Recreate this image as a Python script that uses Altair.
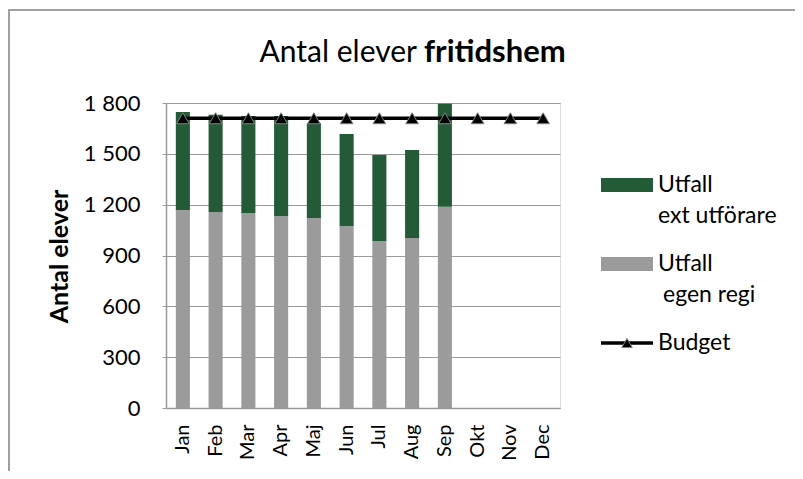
import altair as alt
import pandas as pd

months = ["Jan", "Feb", "Mar", "Apr", "Maj", "Jun", "Jul", "Aug", "Sep", "Okt", "Nov", "Dec"]
egen_regi = [1169, 1157, 1151, 1133, 1122, 1074, 986, 1004, 1187]
ext_utforare = [578, 573, 573, 591, 560, 543, 507, 519, 608]
budget = [1710, 1710, 1710, 1710, 1710, 1710, 1710, 1710, 1710, 1710, 1710, 1710]

S_EXT = "Utfall ext utförare"
S_EGEN = "Utfall egen regi"

rows = []
for i, v in enumerate(egen_regi):
    rows.append({"month": months[i], "series": S_EGEN, "value": v, "order": 1})
for i, v in enumerate(ext_utforare):
    rows.append({"month": months[i], "series": S_EXT, "value": v, "order": 2})
bars_df = pd.DataFrame(rows)
budget_df = pd.DataFrame({"month": months, "value": budget, "series": ["Budget"] * 12})

FONT = "Lato"
GREEN = "#235B37"
GRAY = "#9B9B9B"
GRID = "#9A9A9A"

xscale = alt.Scale(domain=months, paddingInner=0.57, paddingOuter=0.3)
yscale = alt.Scale(domain=[0, 1800], nice=False)

x_enc = alt.X("month:N", scale=xscale, sort=months,
              axis=alt.Axis(title=None, labelAngle=-90, labelAlign="right", labelBaseline="middle",
                            labelFontSize=20, labelFont=FONT, labelColor="#000", labelPadding=16,
                            ticks=False, domainColor=GRID, domainWidth=1.5))

bars = alt.Chart(bars_df).mark_bar().encode(
    x=x_enc,
    y=alt.Y("value:Q", stack="zero", scale=yscale,
            axis=alt.Axis(title="Antal elever", values=[0, 300, 600, 900, 1200, 1500, 1800],
                          labelExpr="replace(format(datum.value, ','), ',', ' ')",
                          labelFontSize=22, labelFont=FONT, labelColor="#000", labelPadding=22,
                          tickSize=4, tickColor=GRID, domainColor=GRID, domainWidth=1.5,
                          gridColor=GRID, gridWidth=1.2,
                          titleFont=FONT, titleFontSize=25, titleFontWeight="bold", titleColor="#000",
                          titleAngle=-90, titleX=-99, titleY=153, titleAlign="center",
                          titleBaseline="alphabetic")),
    color=alt.Color("series:N", scale=alt.Scale(domain=[S_EXT, S_EGEN], range=[GREEN, GRAY]),
                    legend=None),
    order=alt.Order("order:Q"),
)

line = alt.Chart(budget_df).mark_line(color="#000", strokeWidth=3.5).encode(
    x=alt.X("month:N", scale=xscale, sort=months),
    y=alt.Y("value:Q", scale=yscale),
)

points = alt.Chart(budget_df).mark_point(shape="triangle-up", filled=True, size=160,
                                         color="#000", stroke="#808080", strokeWidth=1, opacity=1).encode(
    x=alt.X("month:N", scale=xscale, sort=months),
    y=alt.Y("value:Q", scale=yscale),
)

one = pd.DataFrame({"k": [0]})

# chart-area frame
left_border = alt.Chart(one).mark_rule(color="#A0A0A0", strokeWidth=2).encode(
    x=alt.value(-157), y=alt.value(-93), y2=alt.value(380))
top_border = alt.Chart(one).mark_rule(color="#A0A0A0", strokeWidth=2).encode(
    x=alt.value(-158), x2=alt.value(640), y=alt.value(-93))

# title: regular + bold part
title_a = alt.Chart(one).mark_text(text="Antal elever", font=FONT, fontSize=30, align="right",
                                   baseline="alphabetic", color="#000").encode(
    x=alt.value(251), y=alt.value(-41))
title_b = alt.Chart(one).mark_text(text="fritidshem", font=FONT, fontSize=31, fontWeight="bold",
                                   align="left", baseline="alphabetic", color="#000").encode(
    x=alt.value(258), y=alt.value(-41))

# legend
def ltext(t, x, y):
    return alt.Chart(one).mark_text(text=t, font=FONT, fontSize=23, align="left",
                                    baseline="middle", color="#000").encode(
        x=alt.value(x), y=alt.value(y))

leg_green = alt.Chart(one).mark_rect(color=GREEN).encode(
    x=alt.value(435), x2=alt.value(487), y=alt.value(75), y2=alt.value(89))
leg_gray = alt.Chart(one).mark_rect(color=GRAY).encode(
    x=alt.value(435), x2=alt.value(487), y=alt.value(154), y2=alt.value(168))
leg_line = alt.Chart(one).mark_rule(color="#000", strokeWidth=3.5).encode(
    x=alt.value(435), x2=alt.value(487), y=alt.value(240))
leg_tri = alt.Chart(one).mark_point(shape="triangle-up", filled=True, size=110, color="#000",
                                    stroke="#808080", strokeWidth=1, opacity=1).encode(
    x=alt.value(461), y=alt.value(240))

legend_layers = [
    leg_green, leg_gray, leg_line, leg_tri,
    ltext("Utfall", 492, 82), ltext("ext utförare", 492, 113),
    ltext("Utfall", 492, 161), ltext("egen regi", 497, 192),
    ltext("Budget", 492, 240),
]

chart = alt.layer(bars, line, points, left_border, top_border, title_a, title_b,
                  *legend_layers).properties(
    width=394, height=305,
    autosize=alt.AutoSizeParams(type="none"),
    padding={"left": 158, "top": 95, "right": 235, "bottom": 63},
).configure_view(stroke=None).configure(background="white")

chart.save("out.html", embed_options={"renderer": "svg", "actions": False})
